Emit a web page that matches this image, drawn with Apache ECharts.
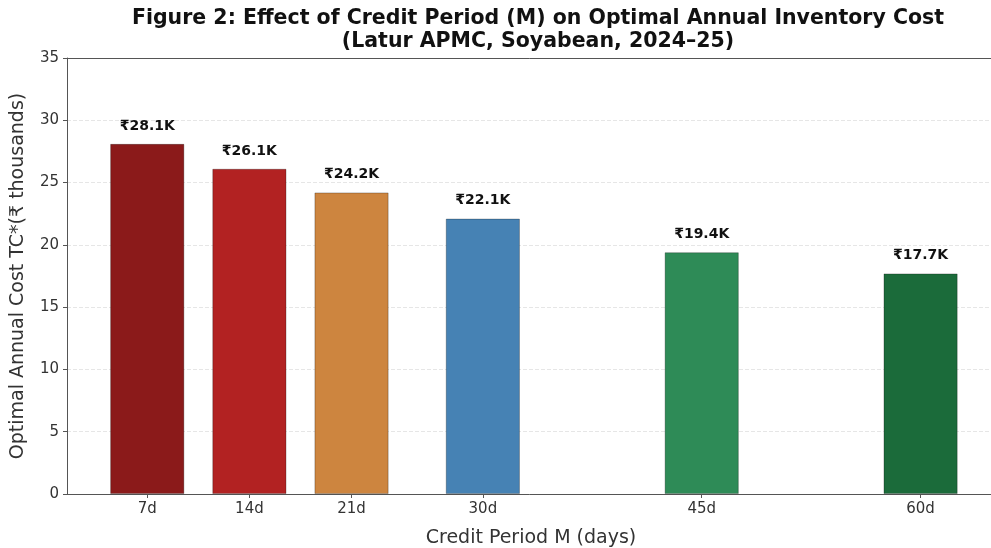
<!DOCTYPE html>
<html><head><meta charset="utf-8">
<script src="https://cdn.jsdelivr.net/npm/echarts@6/dist/echarts.min.js"></script>
<style>html,body{margin:0;padding:0;background:#fff}#c{width:991px;height:548px}</style>
</head><body><div id="c"></div>
<script>
const days = [7, 14, 21, 30, 45, 60];
const dayLabels = ['7d', '14d', '21d', '30d', '45d', '60d'];
const costs = [28.1, 26.1, 24.2, 22.1, 19.4, 17.7];
const valueLabels = ['₹28.1K', '₹26.1K', '₹24.2K', '₹22.1K', '₹19.4K', '₹17.7K'];
const barColors = ['#8B1A1A', '#B22222', '#CD853F', '#4682B4', '#2E8B57', '#1B6B3A'];
const yTicks = [0, 5, 10, 15, 20, 25, 30, 35];

const font = 'DejaVu Sans';
const chart = echarts.init(document.getElementById('c'));
chart.setOption({
  animation: false,
  textStyle: { fontFamily: font },
  title: {
    text: 'Figure 2: Effect of Credit Period (M) on Optimal Annual Inventory Cost\n(Latur APMC, Soyabean, 2024–25)',
    left: 533, top: 2, textAlign: 'center',
    textStyle: { fontFamily: font, fontWeight: 'bold', fontSize: 20.5, lineHeight: 23, color: '#111' }
  },
  grid: { left: 67, right: -4, top: 58, bottom: 54, show: false, outerBoundsMode: 'none', containLabel: false },
  xAxis: [{
    type: 'value', min: 1.5, max: 65.1,
    name: 'Credit Period M (days)', nameLocation: 'middle', nameGap: 35,
    nameTextStyle: { fontFamily: font, fontSize: 19, color: '#333' },
    axisLine: { lineStyle: { color: '#555' } },
    axisTick: { show: true, customValues: days, length: 4, lineStyle: { color: '#555' } },
    axisLabel: { customValues: days, fontFamily: font, fontSize: 15, color: '#333', margin: 8,
      formatter: v => { const i = days.indexOf(v); return i >= 0 ? dayLabels[i] : ''; } },
    splitLine: { show: false }
  }, {
    type: 'value', position: 'top', min: 1.5, max: 65.1,
    axisLine: { show: true, lineStyle: { color: '#555' } },
    axisTick: { show: false }, axisLabel: { show: false }, splitLine: { show: false }
  }],
  yAxis: {
    type: 'value', min: 0, max: 35, interval: 5,
    name: 'Optimal Annual Cost TC*(₹ thousands)', nameLocation: 'middle', nameGap: 39,
    nameTextStyle: { fontFamily: font, fontSize: 19, color: '#333' },
    axisLine: { show: true, lineStyle: { color: '#555' } },
    axisTick: { show: true, length: 4, lineStyle: { color: '#555' } },
    axisLabel: { fontFamily: font, fontSize: 15, color: '#333', margin: 8,
      formatter: v => yTicks.includes(v) ? String(v) : '' },
    splitLine: { show: true, lineStyle: { color: '#e6e6e6', type: 'dashed', width: 1 } }
  },
  series: [{
    type: 'bar',
    xAxisIndex: 0,
    barWidth: 74,
    data: days.map((d, i) => ({
      value: [d, costs[i]],
      itemStyle: { color: barColors[i], borderColor: 'rgba(0,0,0,0.35)', borderWidth: 0.8 },
      label: { formatter: valueLabels[i] }
    })),
    label: { show: true, position: 'top', distance: 11, fontFamily: font, fontWeight: 'bold', fontSize: 14, color: '#111' }
  }]
});
</script></body></html>
